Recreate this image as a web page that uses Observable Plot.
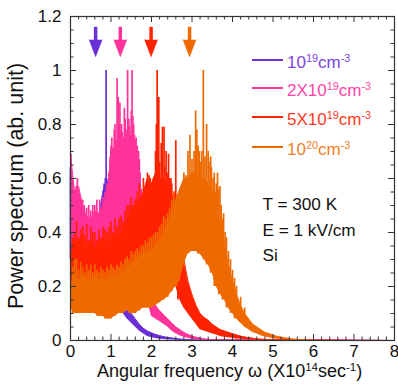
<!DOCTYPE html>
<html><head><meta charset="utf-8">
<script src="https://cdn.jsdelivr.net/npm/d3@7"></script>
<script src="https://cdn.jsdelivr.net/npm/@observablehq/plot@0.6"></script>
<style>
body{margin:0;background:#fff;font-family:"Liberation Sans",Arial,sans-serif}
#wrap{position:relative;width:398px;height:387px;overflow:hidden}
.ov{position:absolute;white-space:nowrap;line-height:1}
.sup{font-size:0.64em;position:relative;top:-0.55em}
</style></head><body><div id="wrap"></div>
<script>
// sampling grid (X10^14 sec^-1)
const omega = [0,0.1,0.2,0.3,0.4,0.5,0.6,0.7,0.8,0.9,1.0,1.1,1.2,1.3,1.4,1.5,1.6,1.7,1.8,1.9,2.0,2.1,2.2,2.3,2.4,2.5,2.6,2.7,2.8,2.9,3.0,3.1,3.2,3.3,3.4,3.5,3.6,3.7,3.8,3.9,4.0,4.1,4.2,4.3,4.4,4.5,4.6,4.7,4.8,4.9,5.0,5.1,5.2,5.3,5.4,5.5,5.6,5.7,5.8,5.9,6.0];

const seriesNames = ["1e19","2e19","5e19","1e20"];
const seriesColors = ["#6a2fd6","#ff3399","#ff2200","#ee6a00"];

// 10^19 cm^-3 (purple) envelope
const purpleHi = [0.64,0.45,0.4,0.38,0.38,0.4,0.42,0.45,0.55,0.6,0.5,0.42,0.4,0.35,0.2,0.1,0.08,0.06,0.045,0.035,0.028,0.022,0.018,0.014,0.011,0.009,0.007,0.005,0.004,0.003,0.002];
const purpleLo = [0.3,0.2,0.15,0.12,0.1,0.1,0.1,0.1,0.12,0.12,0.12,0.1,0.1,0.1,0.08,0.065,0.05,0.035,0.025,0.015,0.01,0.007,0.005,0.004,0.003,0.002,0.001,0,0,0,0];
const purpleSpX = [0.0,0.83,0.86,0.88,0.92,1.02];
const purpleSpY = [0.64,0.58,0.6,1.0,0.56,0.45];

// 2X10^19 cm^-3 (pink)
const pinkHi = [0.69,0.55,0.57,0.5,0.46,0.45,0.48,0.47,0.5,0.52,0.7,0.72,0.74,0.72,0.76,0.75,0.7,0.6,0.4,0.3,0.15,0.13,0.11,0.095,0.08,0.065,0.05,0.04,0.03,0.022,0.016,0.012,0.009,0.006,0.004,0.003];
const pinkLo = [0.35,0.3,0.3,0.28,0.25,0.25,0.25,0.25,0.25,0.28,0.3,0.3,0.3,0.3,0.3,0.3,0.25,0.25,0.2,0.15,0.09,0.08,0.07,0.06,0.05,0.035,0.025,0.018,0.012,0.008,0.005,0.003,0.002,0.001,0,0];
const pinkSpX = [0.01,0.03,0.05,0.08,0.11,0.14,0.17,0.2,0.23,0.26,0.3,0.34,0.4,0.45,0.5,0.55,0.6,0.65,0.72,0.8,0.85,0.9,0.95,0.98,1.0,1.02,1.05,1.08,1.1,1.12,1.15,1.18,1.2,1.22,1.24,1.26,1.28,1.3,1.33,1.35,1.37,1.39,1.41,1.44,1.46,1.48,1.5,1.52,1.54,1.56,1.58,1.6,1.62,1.65,1.68,1.7,1.72,1.75,1.78,1.82,1.86];
const pinkSpY = [0.69,0.6,0.58,0.52,0.55,0.57,0.6,0.55,0.53,0.52,0.52,0.5,0.49,0.5,0.48,0.5,0.5,0.52,0.52,0.53,0.55,0.58,0.62,0.68,0.72,0.75,0.7,0.78,0.8,0.74,0.97,0.9,0.8,0.88,0.78,0.8,0.77,0.75,0.86,0.82,0.78,0.76,1.0,0.82,0.79,0.76,0.85,1.0,0.83,0.8,0.76,0.74,0.75,0.72,0.7,0.67,0.62,0.56,0.5,0.45,0.38];

// 5X10^19 cm^-3 (red)
const redHi = [0.3,0.38,0.36,0.4,0.35,0.37,0.34,0.36,0.38,0.36,0.38,0.4,0.38,0.42,0.45,0.48,0.5,0.52,0.55,0.6,0.58,0.62,0.6,0.6,0.57,0.54,0.5,0.4,0.3,0.22,0.17,0.13,0.1,0.085,0.075,0.06,0.05,0.04,0.035,0.03,0.025,0.02,0.016,0.013,0.01,0.008,0.006,0.005,0.004,0.003,0.002];
const redLo = [0.15,0.2,0.2,0.2,0.18,0.18,0.18,0.17,0.17,0.16,0.16,0.17,0.18,0.2,0.2,0.2,0.22,0.22,0.24,0.25,0.25,0.25,0.25,0.25,0.24,0.22,0.2,0.15,0.12,0.1,0.08,0.06,0.04,0.035,0.03,0.025,0.02,0.015,0.012,0.01,0.008,0.006,0.005,0.004,0.003,0.002,0.001,0,0,0,0];
const redSpX = [0.05,0.1,0.15,0.2,0.25,0.3,0.35,0.4,0.45,0.5,0.55,0.6,0.65,0.7,0.75,0.8,0.85,0.9,0.95,1.0,1.05,1.1,1.15,1.2,1.25,1.3,1.35,1.4,1.45,1.5,1.55,1.6,1.65,1.7,1.72,1.75,1.8,1.85,1.9,1.94,1.97,2.0,2.05,2.1,2.12,2.14,2.18,2.2,2.24,2.27,2.31,2.33,2.36,2.4,2.42,2.45,2.48,2.5,2.54,2.57,2.6,2.65];
const redSpY = [0.38,0.4,0.44,0.38,0.41,0.42,0.39,0.43,0.37,0.42,0.4,0.4,0.37,0.41,0.38,0.42,0.41,0.4,0.42,0.44,0.4,0.45,0.42,0.45,0.46,0.44,0.48,0.5,0.5,0.53,0.5,0.52,0.55,0.58,0.5,0.52,0.6,0.55,0.62,0.61,0.6,0.58,0.6,0.7,0.8,1.0,0.9,0.66,0.73,0.79,0.79,0.64,0.7,0.62,0.69,0.6,0.6,0.58,0.54,0.55,0.74,0.52];

// 10^20 cm^-3 (orange)
const orangeHi = [0.2,0.25,0.22,0.24,0.23,0.22,0.24,0.22,0.23,0.22,0.24,0.23,0.24,0.25,0.27,0.28,0.3,0.31,0.32,0.33,0.33,0.35,0.37,0.4,0.43,0.47,0.52,0.56,0.6,0.6,0.62,0.62,0.6,0.6,0.58,0.55,0.5,0.43,0.36,0.28,0.22,0.17,0.13,0.1,0.08,0.06,0.05,0.04,0.03,0.025,0.02,0.015,0.012,0.009,0.007,0.005,0.004,0.003,0.002,0.001,0];
const orangeLo = [0.12,0.1,0.1,0.1,0.1,0.1,0.1,0.09,0.09,0.08,0.08,0.09,0.1,0.1,0.11,0.1,0.1,0.11,0.12,0.12,0.12,0.13,0.14,0.15,0.16,0.18,0.2,0.22,0.28,0.32,0.33,0.33,0.32,0.3,0.28,0.25,0.2,0.17,0.15,0.12,0.1,0.08,0.065,0.05,0.04,0.03,0.025,0.018,0.013,0.01,0.007,0.005,0.004,0.003,0.002,0.001,0,0,0,0,0];
const orangeSpX = [0.05,0.1,0.15,0.2,0.25,0.3,0.35,0.4,0.45,0.5,0.55,0.6,0.65,0.7,0.75,0.8,0.85,0.9,0.95,1.0,1.05,1.1,1.15,1.2,1.25,1.3,1.35,1.4,1.45,1.5,1.55,1.6,1.65,1.7,1.75,1.8,1.85,1.9,1.95,2.0,2.05,2.1,2.15,2.2,2.25,2.3,2.35,2.4,2.45,2.5,2.55,2.62,2.67,2.75,2.8,2.85,2.9,2.95,3.0,3.05,3.09,3.12,3.15,3.18,3.2,3.24,3.28,3.32,3.36,3.4,3.42,3.46,3.48,3.52,3.55,3.58,3.6,3.63,3.66,3.69,3.72,3.75,3.78,3.82,3.85,3.9,3.95,4.0,4.05,4.1,4.2,4.3];
const orangeSpY = [0.27,0.3,0.3,0.26,0.29,0.27,0.25,0.28,0.26,0.28,0.25,0.28,0.26,0.25,0.27,0.26,0.25,0.27,0.26,0.28,0.27,0.26,0.28,0.27,0.29,0.28,0.3,0.31,0.3,0.33,0.32,0.33,0.34,0.33,0.35,0.35,0.37,0.36,0.38,0.38,0.39,0.4,0.4,0.42,0.43,0.46,0.45,0.47,0.49,0.52,0.55,0.5,0.54,0.5,0.62,0.61,0.7,0.76,0.67,0.7,0.85,0.78,0.72,0.7,0.66,0.7,1.0,0.68,0.8,0.7,0.66,0.68,0.64,0.6,0.62,0.55,0.58,0.62,0.56,0.57,0.5,0.45,0.47,0.4,0.38,0.33,0.3,0.26,0.23,0.2,0.16,0.12];

// arrows marking characteristic frequencies
const arrowX = [0.62,1.23,1.99,2.94];
const arrowTop = 1.16;
const arrowHead = 1.11;

// annotations
const noteText = ["T = 300 K","E = 1 kV/cm","Si"];
const noteY = [0.504,0.407,0.315];
const noteX = 4.74;

const xMajor = [0,1,2,3,4,5,6,7,8];
const xMinor = [0.2,0.4,0.6,0.8,1.2,1.4,1.6,1.8,2.2,2.4,2.6,2.8,3.2,3.4,3.6,3.8,4.2,4.4,4.6,4.8,5.2,5.4,5.6,5.8,6.2,6.4,6.6,6.8,7.2,7.4,7.6,7.8];
const yMajor = [0,0.2,0.4,0.6,0.8,1.0,1.2];
const yMinor = [0.05,0.1,0.15,0.25,0.3,0.35,0.45,0.5,0.55,0.65,0.7,0.75,0.85,0.9,0.95,1.05,1.1,1.15];

const his = [purpleHi,pinkHi,redHi,orangeHi];
const los = [purpleLo,pinkLo,redLo,orangeLo];
const spXs = [purpleSpX,pinkSpX,redSpX,orangeSpX];
const spYs = [purpleSpY,pinkSpY,redSpY,orangeSpY];

const W = 398, H = 387, mL = 70, mR = 4, mT = 16, mB = 47;
const iW = W - mL - mR, iH = H - mT - mB;

const marks = [];
seriesNames.forEach((name, k) => {
  const hi = his[k], lo = los[k];
  const rows = hi.map((h, i) => ({w: omega[i], hi: h, lo: lo[i]}));
  rows.push({w: 8, hi: 0, lo: 0});
  const spikes = spXs[k].map((x, i) => ({x, top: spYs[k][i], base: lo[Math.min(lo.length - 1, Math.round(x * 10))]}));
  marks.push(Plot.areaY(rows, {x: "w", y1: "lo", y2: "hi", fill: seriesColors[k]}));
  marks.push(Plot.lineY(rows, {x: "w", y: "hi", stroke: seriesColors[k], strokeWidth: 1}));
  marks.push(Plot.ruleX(spikes, {x: "x", y1: "base", y2: "top", stroke: seriesColors[k], strokeWidth: 1.7}));
});
// arrows
const arrows = arrowX.map((x, i) => ({x, c: seriesColors[i]}));
marks.push(Plot.ruleX(arrows, {x: "x", y1: () => arrowTop, y2: () => arrowHead, stroke: "c", strokeWidth: 3.5}));
marks.push(Plot.vector(arrows, {x: "x", y: () => arrowHead + 0.004, shape: "spike", length: 17, r: 6.5, rotate: 180, anchor: "start", fill: "c", stroke: "c", strokeWidth: 0.5}));
// notes
marks.push(Plot.text(noteText, {x: () => noteX, y: (d, i) => noteY[i], text: d => d, textAnchor: "start", fontSize: 17.2, fill: "#111", fontFamily: "Liberation Sans, Arial, sans-serif"}));
// ticks (inward)
marks.push(Plot.ruleX(xMajor, {x: d => d, insetTop: iH - 6, stroke: "#333"}));
marks.push(Plot.ruleX(xMinor, {x: d => d, insetTop: iH - 3.5, stroke: "#333"}));
marks.push(Plot.ruleX(xMajor, {x: d => d, insetBottom: iH - 6, stroke: "#333"}));
marks.push(Plot.ruleX(xMinor, {x: d => d, insetBottom: iH - 3.5, stroke: "#333"}));
marks.push(Plot.ruleY(yMajor, {y: d => d, insetRight: iW - 6, stroke: "#333"}));
marks.push(Plot.ruleY(yMinor, {y: d => d, insetRight: iW - 3.5, stroke: "#333"}));
marks.push(Plot.ruleY(yMajor, {y: d => d, insetLeft: iW - 6, stroke: "#333"}));
marks.push(Plot.ruleY(yMinor, {y: d => d, insetLeft: iW - 3.5, stroke: "#333"}));
marks.push(Plot.frame({stroke: "#333", strokeWidth: 1.2}));
marks.push(Plot.axisX({ticks: xMajor, tickSize: 0, tickPadding: 4, fontSize: 17, label: null, tickFormat: d => String(d)}));
marks.push(Plot.axisY({ticks: yMajor, tickSize: 0, tickPadding: 9, fontSize: 17, label: null, tickFormat: d => String(+d.toFixed(1))}));

const chart = Plot.plot({
  width: W, height: H,
  marginLeft: mL, marginRight: mR, marginTop: mT, marginBottom: mB,
  x: {domain: [0, 8]},
  y: {domain: [0, 1.2]},
  style: {fontFamily: "Liberation Sans, Arial, sans-serif", color: "#111", background: "#fff"},
  marks
});
const wrap = document.getElementById("wrap");
wrap.appendChild(chart);

// legend (HTML overlay with superscripts)
const legendLabels = [
  '10<span class="sup">19</span>cm<span class="sup">-3</span>',
  '2X10<span class="sup">19</span>cm<span class="sup">-3</span>',
  '5X10<span class="sup">19</span>cm<span class="sup">-3</span>',
  '10<span class="sup">20</span>cm<span class="sup">-3</span>'
];
const legendText = ["#7d45e0","#ff45a8","#ff3a22","#ef7f2a"];
const legendRowY = [60, 88, 117, 147];
legendLabels.forEach((lab, i) => {
  const ln = document.createElement("div");
  ln.className = "ov";
  ln.style.cssText = `left:252px;top:${legendRowY[i]-1}px;width:31px;height:2px;background:${seriesColors[i]}`;
  wrap.appendChild(ln);
  const t = document.createElement("div");
  t.className = "ov";
  t.style.cssText = `left:287px;top:${legendRowY[i]-6}px;font-size:17px;color:${legendText[i]}`;
  t.innerHTML = lab;
  wrap.appendChild(t);
});
// axis titles
const xl = document.createElement("div");
xl.className = "ov";
xl.style.cssText = "left:97px;top:362px;font-size:18px;color:#111";
xl.innerHTML = 'Angular frequency &omega; (X10<span class="sup">14</span>sec<span class="sup">-1</span>)';
wrap.appendChild(xl);
const yl = document.createElement("div");
yl.className = "ov";
yl.style.cssText = "left:17px;top:186px;font-size:21.5px;color:#111;transform:translate(-50%,-50%) rotate(-90deg)";
yl.textContent = "Power spectrum (ab. unit)";
wrap.appendChild(yl);
</script></body></html>
